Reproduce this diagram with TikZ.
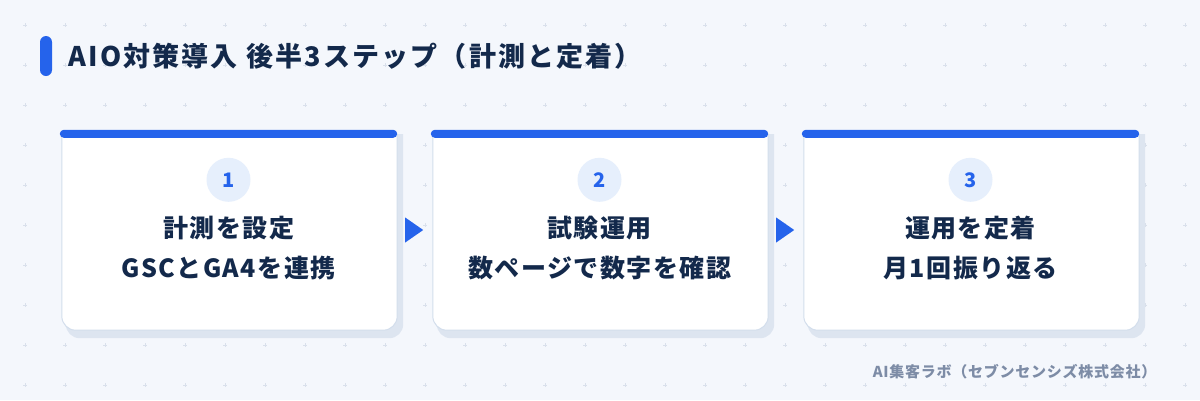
\documentclass[tikz,border=0pt]{standalone}
\usepackage{fontspec}
\setmainfont{Noto Sans CJK JP}
\usetikzlibrary{positioning,calc}

\definecolor{pagebg}{HTML}{F4F7FC}
\definecolor{gridmark}{HTML}{D9E0EB}
\definecolor{stepblue}{HTML}{2563EB}
\definecolor{navy}{HTML}{13294B}
\definecolor{cardline}{HTML}{D3DEEC}
\definecolor{cardshadow}{HTML}{DDE5F0}
\definecolor{badgefill}{HTML}{E6EFFC}
\definecolor{creditgray}{HTML}{7D8CA6}

\tikzset{
  cardframe/.style={rectangle, inner sep=0pt, minimum width=337pt, minimum height=200pt},
  cardbody/.style={fill=white, draw=cardline, line width=1pt, rounded corners=14pt},
  cardshade/.style={fill=cardshadow, rounded corners=14pt},
  cardbar/.style={fill=stepblue, rounded corners=4pt},
  badge/.style={circle, fill=badgefill, minimum size=44pt, inner sep=0pt,
    text=stepblue, font=\fontsize{20}{22}\selectfont\bfseries},
  steptext/.style={align=center, text=navy,
    font=\fontsize{25}{40}\selectfont\bfseries\addfontfeatures{LetterSpace=6}},
  flowtip/.style={fill=stepblue}
}

\begin{document}
\begin{tikzpicture}[x=1pt,y=-1pt]
\useasboundingbox (0,0) rectangle (1200,400);
\fill [pagebg] (0,0) rectangle (1200,400);
% faint grid of plus marks
\foreach \i in {0,...,29} {
  \foreach \j in {0,...,9} {
    \draw [gridmark, line width=0.8pt] (25+40*\i-2,25+40*\j) -- ++(4,0)
      (25+40*\i,25+40*\j-2) -- ++(0,4);
  }
}

% heading
\fill [stepblue, rounded corners=6pt] (40,36) rectangle (52,76);
\node [anchor=west, text=navy,
  font=\fontsize{27}{30}\selectfont\bfseries\addfontfeatures{LetterSpace=8}] (heading) at (65,56)
  {AIO対策導入 後半3ステップ（計測と定着）};

% cards
\node [cardframe] (card1) at (228.5,230) {};
\node [cardframe] (card2) at (599.5,230) {};
\node [cardframe] (card3) at (970.5,230) {};

\begin{scope}
\clip (0,134) rectangle (1200,360);
\fill [cardshade] ([shift={(6,-10)}]card1.north west) rectangle ([shift={(6,8)}]card1.south east);
\fill [cardshade] ([shift={(6,-10)}]card2.north west) rectangle ([shift={(6,8)}]card2.south east);
\fill [cardshade] ([shift={(6,-10)}]card3.north west) rectangle ([shift={(6,8)}]card3.south east);
\draw [cardbody] ([shift={(2,-10)}]card1.north west) rectangle (card1.south east);
\draw [cardbody] ([shift={(2,-10)}]card2.north west) rectangle (card2.south east);
\draw [cardbody] ([shift={(2,-10)}]card3.north west) rectangle (card3.south east);
\end{scope}
\fill [cardbar] (card1.north west) rectangle ([yshift=-8]card1.north east);
\fill [cardbar] (card2.north west) rectangle ([yshift=-8]card2.north east);
\fill [cardbar] (card3.north west) rectangle ([yshift=-8]card3.north east);

\node [badge] (num1) at ($(card1.north)+(0,50)$) {1};
\node [badge] (num2) at ($(card2.north)+(0,50)$) {2};
\node [badge] (num3) at ($(card3.north)+(0,50)$) {3};

\node [steptext] (text1) at ($(card1.north)+(0,118)$) {計測を設定\\GSCとGA4を連携};
\node [steptext] (text2) at ($(card2.north)+(0,118)$) {試験運用\\数ページで数字を確認};
\node [steptext] (text3) at ($(card3.north)+(0,118)$) {運用を定着\\月1回振り返る};

% arrows between cards
\fill [flowtip] ($(card1.east)+(8,-12.5)$) -- ($(card1.east)+(26,0)$) -- ($(card1.east)+(8,12.5)$) -- cycle;
\fill [flowtip] ($(card2.east)+(8,-12.5)$) -- ($(card2.east)+(26,0)$) -- ($(card2.east)+(8,12.5)$) -- cycle;

% credit line
\node [anchor=east, text=creditgray,
  font=\fontsize{15}{18}\selectfont\bfseries\addfontfeatures{LetterSpace=5}] (credit) at (1160,372)
  {AI集客ラボ（セブンセンシズ株式会社）};
\end{tikzpicture}
\end{document}
